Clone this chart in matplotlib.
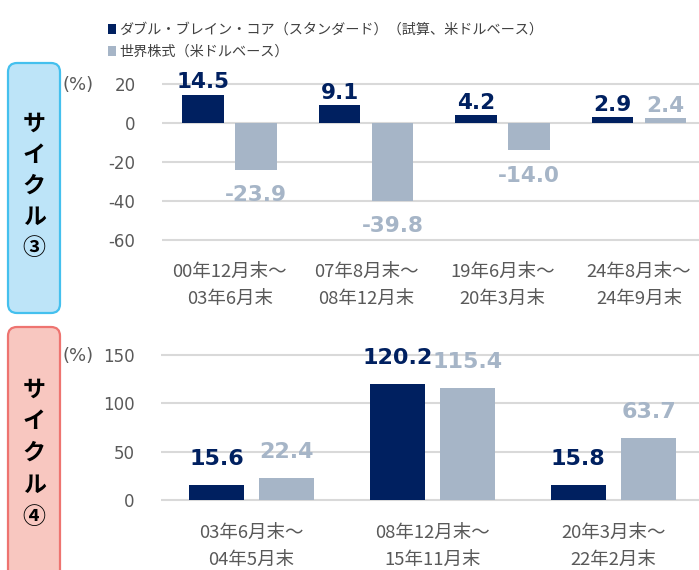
import numpy as np
import matplotlib
matplotlib.use("Agg")
import matplotlib.pyplot as plt
from matplotlib.patches import FancyBboxPatch

plt.rcParams['font.family'] = ['Noto Sans CJK JP', 'DejaVu Sans']

# data
cats3 = ["00年12月末～\n03年6月末", "07年8月末～\n08年12月末",
         "19年6月末～\n20年3月末", "24年8月末～\n24年9月末"]
dbc3 = [14.5, 9.1, 4.2, 2.9]
world3 = [-23.9, -39.8, -14.0, 2.4]
ticks3 = [20, 0, -20, -40, -60]

cats4 = ["03年6月末～\n04年5月末", "08年12月末～\n15年11月末",
         "20年3月末～\n22年2月末"]
dbc4 = [15.6, 120.2, 15.8]
world4 = [22.4, 115.4, 63.7]
ticks4 = [150, 100, 50, 0]

series_names = ["ダブル・ブレイン・コア（スタンダード）（試算、米ドルベース）",
                "世界株式（米ドルベース）"]

navy = "#002060"
gray = "#A6B5C7"
txt_gray = "#595959"
grid_c = "#D9D9D9"

W, H = 699, 570
fig = plt.figure(figsize=(W / 100, H / 100), dpi=100)

# background axes in pixel coords for boxes and free text
bg = fig.add_axes([0, 0, 1, 1], zorder=-1)
bg.set_xlim(0, W)
bg.set_ylim(H, 0)
bg.axis("off")


def px_axes(left, top, right, bottom):
    return fig.add_axes([left / W, 1 - bottom / H, (right - left) / W, (bottom - top) / H])


def draw_panel(ax, cats, s1, s2, ticks, ylim, xlim, gap_pos, gap_neg, vsize):
    x = np.arange(len(cats))
    w = 0.305
    off = 0.194
    b1 = ax.bar(x - off, s1, width=w, color=navy, zorder=2)
    b2 = ax.bar(x + off, s2, width=w, color=gray, zorder=2)
    ax.set_xlim(*xlim)
    ax.set_ylim(*ylim)
    ax.set_yticks(ticks)
    ax.set_yticklabels([str(t) for t in ticks], family="DejaVu Sans", fontsize=12, color=txt_gray)
    ax.set_xticks(x)
    ax.set_xticklabels(cats, fontsize=13.3, color=txt_gray, linespacing=1.65)
    ax.tick_params(axis="y", length=0, pad=19)
    ax.tick_params(axis="x", length=0, pad=13.5)
    ax.yaxis.grid(True, color=grid_c, lw=1.5)
    ax.set_axisbelow(True)
    for s in ax.spines.values():
        s.set_visible(False)
    ax.patch.set_alpha(0)
    for xs, vals, col in [(x - off, s1, navy), (x + off, s2, gray)]:
        for xi, v in zip(xs, vals):
            if v >= 0:
                ax.annotate(f"{v:.1f}", (xi, v), xytext=(0, gap_pos), textcoords="offset points",
                            ha="center", va="baseline", color=col, fontsize=vsize,
                            fontweight="bold", family="DejaVu Sans")
            else:
                ax.annotate(f"{v:.1f}", (xi, v), xytext=(0, -gap_neg), textcoords="offset points",
                            ha="center", va="top", color=col, fontsize=vsize,
                            fontweight="bold", family="DejaVu Sans")
    return b1, b2


ax3 = px_axes(162, 80.1, 699, 243.9)
h1, h2 = draw_panel(ax3, cats3, dbc3, world3, ticks3, (-62, 22), (-0.496, 3.44), 4.5, 11, 15.5)

ax4 = px_axes(161, 350.2, 699, 504.8)
draw_panel(ax4, cats4, dbc4, world4, ticks4, (-5, 155), (-0.501, 2.473), 14.5, 11, 16)

# (%) labels
bg.text(62, 85, "(%)", fontsize=13, color=txt_gray, ha="left", va="center", family="DejaVu Sans")
bg.text(62, 356, "(%)", fontsize=13, color=txt_gray, ha="left", va="center", family="DejaVu Sans")

# side boxes
bg.add_patch(FancyBboxPatch((8, 63), 52, 250, boxstyle="round,pad=0,rounding_size=9",
                            fc="#BDE4F8", ec="#44C0EE", lw=1.6))
bg.add_patch(FancyBboxPatch((8, 327), 52, 280, boxstyle="round,pad=0,rounding_size=9",
                            fc="#F8C7C0", ec="#EE7470", lw=1.6))
for i, ch in enumerate("サイクル③"):
    bg.text(34, 124 + i * 31.2, ch, fontsize=16.5, fontweight="bold", ha="center", va="center")
for i, ch in enumerate("サイクル④"):
    bg.text(34, 390 + i * 31.8, ch, fontsize=16.5, fontweight="bold", ha="center", va="center")

# legend
fig.legend([h1, h2], series_names, loc="upper left", bbox_to_anchor=(108 / W, 1 - 23 / H),
           frameon=False, fontsize=10.2, labelcolor="#404040", handlelength=0.55,
           handleheight=0.75, handletextpad=0.25, labelspacing=0.55, borderpad=0,
           borderaxespad=0)

fig.savefig("out.png", dpi=100)
